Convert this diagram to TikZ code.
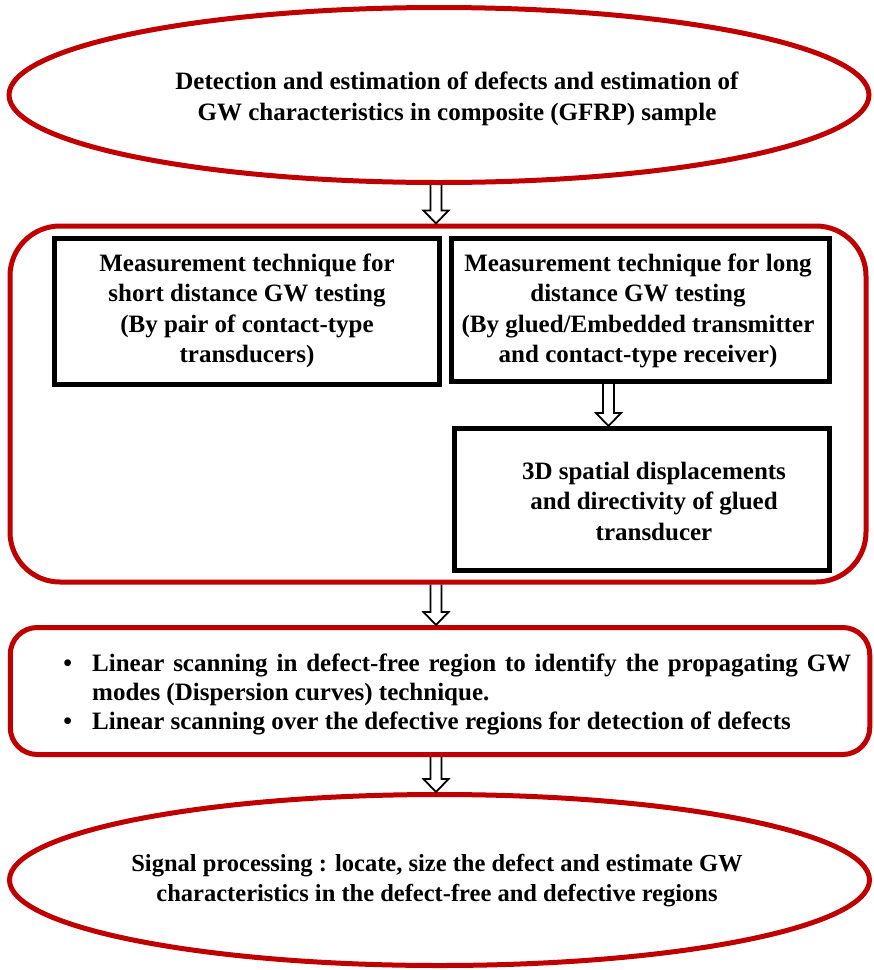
\documentclass[tikz,border=0pt]{standalone}
\usepackage{fontspec}
\setmainfont{Liberation Serif}
\usetikzlibrary{calc,shapes.geometric}
\definecolor{framered}{HTML}{C00000}
\begin{document}
\begin{tikzpicture}[x=1pt,y=-1pt,
  redoval/.style={ellipse, draw=framered, line width=5pt, inner sep=0pt},
  redframe/.style={rectangle, draw=framered, line width=5pt, rounded corners=#1, inner sep=0pt},
  blackbox/.style={rectangle, draw=black, line width=5pt, inner sep=0pt},
  caption/.style={font=\fontsize{25}{30.5}\selectfont\bfseries, align=center, inner sep=0pt},
  hollow/.style={draw=black, line width=1.8pt, line join=miter,
    to path={let \p1=(\tikztostart), \p2=(\tikztotarget) in
      (\x1-5.5pt,\y1) -- (\x1-5.5pt,\y2+13pt) -- (\x1-12.5pt,\y2+13pt) -- (\x1,\y2)
      -- (\x1+12.5pt,\y2+13pt) -- (\x1+5.5pt,\y2+13pt) -- (\x1+5.5pt,\y1)}}]
\useasboundingbox (0,0) rectangle (874,970);

% outer shapes
\node[redoval, minimum width=860, minimum height=175] (top) at (439,95) {};
\node[redframe=50pt, minimum width=856, minimum height=356] (big) at (438,404) {};
\node[blackbox, minimum width=385, minimum height=146] (boxA) at (247,311.5) {};
\node[blackbox, minimum width=378, minimum height=143] (boxB) at (640.5,310) {};
\node[blackbox, minimum width=375, minimum height=142] (boxC) at (642,499.5) {};
\node[redframe=27pt, minimum width=859.5, minimum height=127] (scan) at (440,691) {};
\node[redoval, minimum width=860, minimum height=171] (bottom) at (439.5,880) {};

% texts
\node[caption] (topText) at (457,99) {Detection and estimation of defects and estimation of\\GW characteristics in composite (GFRP) sample};
\node[caption] (aText) at (247,311) {Measurement technique for\\short distance GW testing\\(By pair of contact-type\\transducers)};
\node[caption] (bText) at (638,311) {Measurement technique for long\\distance GW testing\\(By glued/Embedded transmitter\\and contact-type receiver)};
\node[caption] (cText) at (654,501) {3D spatial displacements\\and directivity of glued\\transducer};
\node[inner sep=0pt, anchor=north west, text width=759pt, align=justify,
      font=\fontsize{25}{29}\selectfont\bfseries] (scanText) at (92,654)
  {\noindent\llap{\textbullet\hspace{20pt}}Linear scanning in defect-free region to identify the propagating GW modes (Dispersion curves) technique.\par
   \noindent\llap{\textbullet\hspace{20pt}}Linear scanning over the defective regions for detection of defects};
\node[caption, font=\fontsize{24.5}{30.5}\selectfont\bfseries] (bottomText) at (437,880.5) {Signal processing : locate, size the defect and estimate GW\\characteristics in the defect-free and defective regions};

% hollow arrows between stages
\coordinate (mid) at (436,0);
\coordinate (side) at (608.5,0);
\draw[hollow] (top.south -| mid) to (big.north -| mid);
\draw[hollow] (boxB.south -| side) to (boxC.north -| side);
\draw[hollow] (big.south -| mid) to (scan.north -| mid);
\draw[hollow] (scan.south -| mid) to (bottom.north -| mid);
\end{tikzpicture}
\end{document}
